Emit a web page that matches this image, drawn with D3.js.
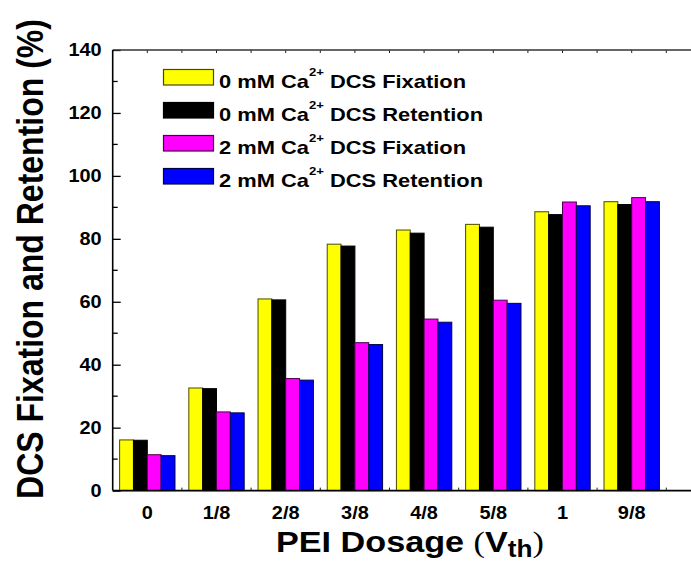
<!DOCTYPE html>
<html>
<head>
<meta charset="utf-8">
<script src="https://cdn.jsdelivr.net/npm/d3@7/dist/d3.min.js"></script>
<style>
  html, body { margin: 0; padding: 0; background: #fff; }
  svg { display: block; font-family: "Liberation Sans", Arial, sans-serif; font-weight: bold; }
</style>
</head>
<body>
<svg id="chart" width="691" height="561"></svg>
<script>
// PEI dosage groups (x categories)
const categories = ["0", "1/8", "2/8", "3/8", "4/8", "5/8", "1", "9/8"];

// Series values (%)
const fix0 = [16.1, 32.6, 60.9, 78.3, 82.8, 84.6, 88.6, 91.8];
const ret0 = [16.0, 32.4, 60.6, 77.7, 81.8, 83.7, 87.7, 90.9];
const fix2 = [11.4, 25.0, 35.6, 47.0, 54.5, 60.5, 91.7, 93.1];
const ret2 = [11.1, 24.7, 35.1, 46.4, 53.5, 59.5, 90.5, 91.8];

const seriesNames = ["0 mM Ca|2+| DCS Fixation", "0 mM Ca|2+| DCS Retention",
                     "2 mM Ca|2+| DCS Fixation", "2 mM Ca|2+| DCS Retention"];
const seriesValues = [fix0, ret0, fix2, ret2];
const fillColors = ["#ffff00", "#000000", "#ff00ff", "#0000ff"];
const strokeColors = ["#4a4a00", "#000000", "#4a004a", "#00004a"];

const yTicks = [0, 20, 40, 60, 80, 100, 120, 140];

const svg = d3.select("#chart");
const plotLeft = 112.7, plotTop = 50, plotBottom = 490.6, step = 69.2;
const plotRight = plotLeft + step * categories.length;
const wide = 1.14;   // horizontal stretch of the lettering

const x = d3.scaleBand().domain(categories).range([plotLeft, plotRight])
  .paddingInner(0.2).paddingOuter(0.1);
const xs = d3.scaleBand().domain(d3.range(seriesNames.length)).range([0, x.bandwidth()]);
const y = d3.scaleLinear().domain([0, 140]).range([plotBottom, plotTop]);

// Top/bottom x ticks at group boundaries (and group centres on top)
const boundaries = d3.range(1, categories.length + 1).map(i => plotLeft + i * step);
const tickG = svg.append("g").attr("stroke", "#222").attr("stroke-width", 1);
boundaries.forEach(bx => {
  tickG.append("line").attr("x1", bx).attr("x2", bx).attr("y1", plotBottom).attr("y2", plotBottom - 3);
  tickG.append("line").attr("x1", bx).attr("x2", bx).attr("y1", plotTop).attr("y2", plotTop + 3);
});
categories.forEach(c => {
  const cx = x(c) + x.bandwidth() / 2;
  tickG.append("line").attr("x1", cx).attr("x2", cx).attr("y1", plotTop).attr("y2", plotTop + 3);
});

// Bars
const rows = [];
categories.forEach((c, i) => seriesValues.forEach((vals, s) => rows.push({ c, s, v: vals[i] })));
svg.append("g").selectAll("rect").data(rows).join("rect")
  .attr("x", d => x(d.c) + xs(d.s))
  .attr("y", d => y(d.v))
  .attr("width", xs.bandwidth())
  .attr("height", d => y(0) - y(d.v))
  .attr("fill", d => fillColors[d.s])
  .attr("stroke", d => strokeColors[d.s])
  .attr("stroke-width", 1);

// Y axis with inward ticks
const yAxis = d3.axisLeft(y).tickValues(yTicks).tickSize(-8).tickPadding(11);
const yg = svg.append("g").attr("transform", `translate(${plotLeft},0)`).call(yAxis);
yg.select(".domain").remove();
yg.selectAll("line").attr("stroke", "#000").attr("stroke-width", 1.3);
yg.selectAll("text")
  .attr("font-size", 17.5).attr("font-weight", "bold")
  .attr("font-family", "Liberation Sans, Arial, sans-serif").attr("fill", "#000")
  .attr("x", -11 / wide)
  .attr("transform", `scale(${wide},1)`);
// minor y ticks
const minorG = svg.append("g").attr("stroke", "#000").attr("stroke-width", 1.3);
d3.range(10, 140, 20).forEach(v => {
  minorG.append("line").attr("x1", plotLeft).attr("x2", plotLeft + 5).attr("y1", y(v)).attr("y2", y(v));
});

// Axis frame lines
const frame = svg.append("g").attr("stroke", "#000").attr("stroke-width", 1.6);
frame.append("line").attr("x1", plotLeft).attr("x2", 691).attr("y1", plotBottom).attr("y2", plotBottom);
frame.append("line").attr("x1", plotLeft).attr("x2", 691).attr("y1", plotTop).attr("y2", plotTop).attr("stroke", "#333");
frame.append("line").attr("x1", plotLeft).attr("x2", plotLeft).attr("y1", plotTop).attr("y2", plotBottom);

// X tick labels
svg.append("g").selectAll("text").data(categories).join("text")
  .attr("transform", d => `translate(${x(d) + x.bandwidth() / 2},519) scale(${wide},1)`)
  .attr("text-anchor", "middle")
  .attr("font-size", 17.5)
  .text(d => d);

// Axis titles
svg.append("text")
  .attr("transform", `translate(43,259) scale(${wide},1) rotate(-90)`)
  .attr("text-anchor", "middle")
  .attr("font-size", 32)
  .text("DCS Fixation and Retention (%)");

const xTitle = svg.append("text")
  .attr("transform", `translate(276,552) scale(${wide},1)`)
  .attr("font-size", 30);
xTitle.append("tspan").text("PEI Dosage ");
xTitle.append("tspan").attr("font-family", "Liberation Serif, Times New Roman, serif").attr("font-weight", "normal").text("(");
xTitle.append("tspan").text("V");
xTitle.append("tspan").attr("font-size", 23).attr("dy", 5).text("th");
xTitle.append("tspan").attr("font-family", "Liberation Serif, Times New Roman, serif").attr("font-weight", "normal").attr("dy", -5).text(")");

// Legend
const legend = svg.append("g");
seriesNames.forEach((name, i) => {
  const ry = 69.5 + i * 33;
  legend.append("rect").attr("x", 163.5).attr("y", ry).attr("width", 50).attr("height", 15.5)
    .attr("fill", fillColors[i]).attr("stroke", strokeColors[i]).attr("stroke-width", 1.2);
  const parts = name.split("|");
  const t = legend.append("text")
    .attr("transform", `translate(219,${ry + 18}) scale(1.25,1)`)
    .attr("font-size", 17.5);
  t.append("tspan").text(parts[0]);
  t.append("tspan").attr("font-size", 10.5).attr("dy", -12).text(parts[1]);
  t.append("tspan").attr("dy", 12).text(" " + parts[2].trim());
});
</script>
</body>
</html>
